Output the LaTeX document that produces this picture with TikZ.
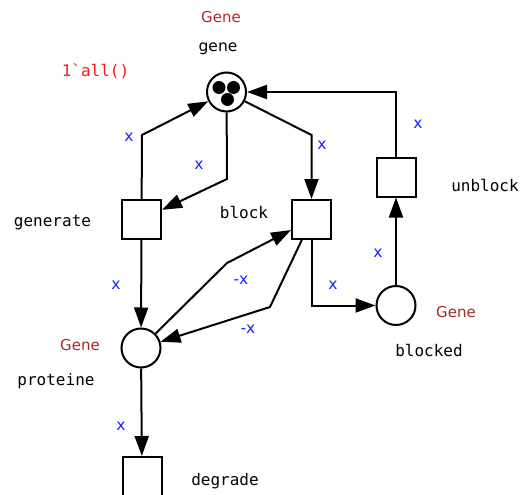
\documentclass[tikz,border=0pt]{standalone}
\usepackage{fontspec}
\setmainfont{DejaVu Sans}
\setmonofont{DejaVu Sans Mono}
\usetikzlibrary{arrows.meta}
\definecolor{genecol}{RGB}{170,40,40}
\definecolor{xblue}{RGB}{30,30,255}
\definecolor{initred}{RGB}{255,20,20}
\tikzset{
  place/.style={circle,draw,line width=2pt,minimum size=39pt,inner sep=0pt,fill=white},
  trans/.style={rectangle,draw,line width=2pt,minimum size=39pt,inner sep=0pt,fill=white},
  arc/.style={line width=2pt,-{Triangle[length=20pt,width=14pt]}},
  typelbl/.style={text=genecol,font=\fontsize{15}{18}\selectfont,inner sep=0pt},
  namelbl/.style={font=\ttfamily\fontsize{16}{19}\selectfont,inner sep=0pt},
  sanslbl/.style={font=\fontsize{15.5}{18}\selectfont,inner sep=0pt},
  inslbl/.style={text=xblue,font=\fontsize{15.5}{18}\selectfont,inner sep=0pt},
  initlbl/.style={text=initred,font=\ttfamily\fontsize{16}{19}\selectfont,inner sep=0pt},
  token/.style={circle,fill=black,minimum size=13pt,inner sep=0pt}
}
\begin{document}
\begin{tikzpicture}[x=1pt,y=-1pt]
\useasboundingbox (0,0) rectangle (528,495);
\clip (0,12) rectangle (528,495);
% places
\node[place] (gene) at (226.5,92) {};
\node[place] (proteine) at (141,348) {};
\node[place] (blocked) at (396,305.5) {};
% tokens
\node[token] (t1) at (219,87.5) {};
\node[token] (t2) at (233.5,87.5) {};
\node[token] (t3) at (227.5,99.5) {};
% transitions
\node[trans] (generate) at (141.5,219.5) {};
\node[trans] (block) at (311.5,219.5) {};
\node[trans] (unblock) at (396,177) {};
\node[trans] (degrade) at (142,476.5) {};
% labels
\node[typelbl] (gtype) at (221,17) {Gene};
\node[sanslbl] (gname) at (218,49) {gene};
\node[initlbl] (ginit) at (95.5,71.5) {1`all()};
\node[typelbl] (ptype) at (80,345.5) {Gene};
\node[namelbl] (pname) at (56,381.5) {proteine};
\node[typelbl] (btype) at (456,312) {Gene};
\node[namelbl] (bname) at (429,350.5) {blocked};
\node[namelbl] (genname) at (52.5,222.5) {generate};
\node[namelbl] (blkname) at (244,212) {block};
\node[namelbl] (ublname) at (485,185.5) {unblock};
\node[namelbl] (degname) at (225,481.5) {degrade};
% bend points
\coordinate (c1) at (142,135);
\coordinate (c2) at (227,179);
\coordinate (c3) at (311.5,135);
\coordinate (c4) at (227,263);
\coordinate (c5) at (270,307);
% arcs
\draw[arc] (generate) -- (c1) -- (gene);
\draw[arc] (gene) -- (c2) -- (generate);
\draw[arc] (gene) -- (c3) -- (block);
\draw[arc] (unblock) |- (gene);
\draw[arc] (blocked) -- (unblock);
\draw[arc] (block) |- (blocked);
\draw[arc] (generate) -- (proteine);
\draw[arc] (proteine) -- (c4) -- (block);
\draw[arc] (block) -- (c5) -- (proteine);
\draw[arc] (proteine) -- (degrade);
% inscriptions
\node[inslbl] (i1) at (129,137.5) {x};
\node[inslbl] (i2) at (199,165.5) {x};
\node[inslbl] (i3) at (322,145.5) {x};
\node[inslbl] (i4) at (418,124.5) {x};
\node[inslbl] (i5) at (378,253.5) {x};
\node[inslbl] (i6) at (333,285.5) {x};
\node[inslbl] (i7) at (116,285.5) {x};
\node[inslbl] (i8) at (241,280.5) {-x};
\node[inslbl] (i9) at (248,329.5) {-x};
\node[inslbl] (i10) at (121,426.5) {x};
\end{tikzpicture}
\end{document}
